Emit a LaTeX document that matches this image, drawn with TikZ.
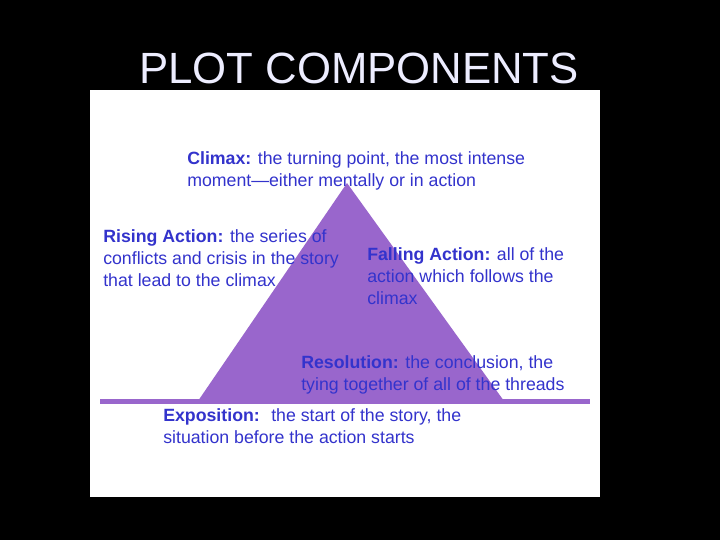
\documentclass[tikz,border=0pt]{standalone}
\usepackage{fontspec}
\setmainfont{Liberation Sans}
\usetikzlibrary{positioning}
\definecolor{plotblue}{RGB}{51,51,204}
\definecolor{plotpurple}{RGB}{153,102,204}
\tikzset{
	x=0.75pt, y=-0.75pt,
	label text/.style ={anchor=north west, inner sep=0pt, align=left, text=plotblue, font=\fontsize{13.3}{16.5}\selectfont}, % the blue labels round the triangle
	title text/.style ={text=white!93!blue, font=\fontsize{32.8}{36}\selectfont}
}
\begin{document}
\begin{tikzpicture}
            \fill[black] (0,0) rectangle (720,540);
            \fill[white] (90,90) rectangle (600,497);
            \node[title text] (title) at (359,68) {PLOT COMPONENTS};
            % the triangle and its base line
            \coordinate (top) at (347,183);
            \coordinate (left) at (198,401);
            \coordinate (right) at (504,401);
            \fill[plotpurple] (left) -- (top) -- (right) -- cycle;
            \coordinate (start) at (100,401.5);
            \coordinate (end) at (590,401.5);
            \draw[plotpurple, line width=3.8pt] (start) -- (end);
            \node[label text] (climax) at (187,151) {\textbf{Climax:} the turning point, the most intense\\moment---either mentally or in action};
            \node[label text] (rising) at (103,229) {\textbf{Rising Action:} the series of\\conflicts and crisis in the story\\that lead to the climax};
            \node[label text] (falling) at (367,247) {\textbf{Falling Action:} all of the\\action which follows the\\climax};
            \node[label text] (resolution) at (301,355) {\textbf{Resolution:} the conclusion, the\\tying together of all of the threads};
            \node[label text] (exposition) at (163,408) {\textbf{Exposition:} \ the start of the story, the\\situation before the action starts};
        \end{tikzpicture}
\end{document}
